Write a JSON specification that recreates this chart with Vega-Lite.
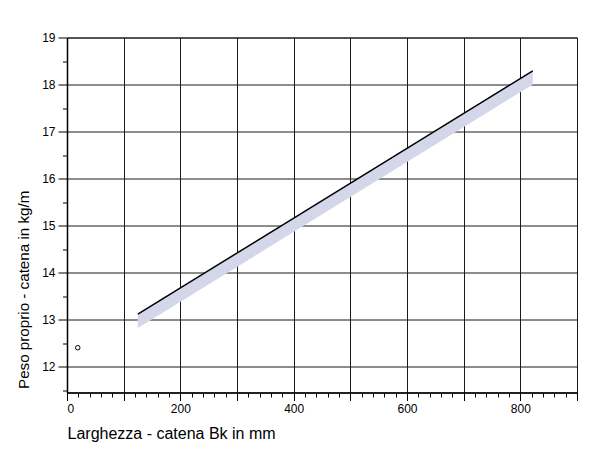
{
  "$schema": "https://vega.github.io/schema/vega-lite/v6.json",
  "width": 510,
  "height": 355,
  "autosize": {"type": "none"},
  "padding": {"left": 67, "top": 37.5, "right": 13, "bottom": 66.5},
  "background": "white",
  "config": {
    "font": "Liberation Sans",
    "view": {"stroke": "#1a1a1a", "strokeWidth": 1}
  },
  "datasets": {
    "band": [
      {"width_mm": 125, "top": 13.115, "bottom": 12.82},
      {"width_mm": 822, "top": 18.29, "bottom": 18.0}
    ],
    "point": [
      {"width_mm": 19, "peso": 12.4}
    ]
  },
  "layer": [
    {
      "data": {"name": "band"},
      "mark": {"type": "area", "color": "#d4d7ea", "opacity": 1},
      "encoding": {
        "x": {
          "field": "width_mm", "type": "quantitative",
          "title": "Larghezza - catena Bk in mm",
          "scale": {"domain": [0, 900], "nice": false, "zero": false},
          "axis": {
            "values": [0,20,40,60,80,100,120,140,160,180,200,220,240,260,280,300,320,340,360,380,400,420,440,460,480,500,520,540,560,580,600,620,640,660,680,700,720,740,760,780,800,820,840,860,880,900],
            "tickCount": 1000,
            "format": "d",
            "labelExpr": "datum.value % 200 === 0 ? datum.label : ''",
            "labelOverlap": false,
            "grid": true,
            "gridColor": "#1a1a1a",
            "gridWidth": 1,
            "gridOpacity": {"condition": {"test": "datum.value % 100 === 0", "value": 1}, "value": 0},
            "tickSize": {"condition": {"test": "datum.value % 100 === 0", "value": 8}, "value": 4.5},
            "tickColor": "black",
            "tickWidth": 1,
            "domainColor": "black",
            "domainWidth": 1.5,
            "labelFontSize": 12,
            "labelColor": "black",
            "labelPadding": 3,
            "titleFontSize": 16,
            "titleFontWeight": "normal",
            "titleColor": "black",
            "titleAnchor": "start",
            "titlePadding": 11
          }
        },
        "y": {
          "field": "bottom", "type": "quantitative",
          "title": "Peso proprio - catena in kg/m",
          "scale": {"domain": [11.447, 19], "nice": false, "zero": false},
          "axis": {
            "values": [11.5,12,12.5,13,13.5,14,14.5,15,15.5,16,16.5,17,17.5,18,18.5,19],
            "tickCount": 1000,
            "format": ".0f",
            "labelExpr": "datum.value % 1 === 0 ? datum.label : ''",
            "labelOverlap": false,
            "labelFlush": false,
            "grid": true,
            "gridColor": "#1a1a1a",
            "gridWidth": 1,
            "gridOpacity": {"condition": {"test": "datum.value % 1 === 0", "value": 1}, "value": 0},
            "tickSize": {"condition": {"test": "datum.value % 1 === 0", "value": 9}, "value": 4.5},
            "tickColor": "black",
            "tickWidth": 1,
            "domainColor": "black",
            "domainWidth": 1.5,
            "labelFontSize": 12,
            "labelColor": "black",
            "labelPadding": 3,
            "titleFontSize": 15.2,
            "titleFontWeight": "normal",
            "titleColor": "black",
            "titleAnchor": "start",
            "titleY": 351,
            "titlePadding": 10
          }
        },
        "y2": {"field": "top"}
      }
    },
    {
      "data": {"name": "band"},
      "mark": {"type": "line", "color": "black", "strokeWidth": 1.5},
      "encoding": {
        "x": {"field": "width_mm", "type": "quantitative", "title": "Larghezza - catena Bk in mm"},
        "y": {"field": "top", "type": "quantitative", "title": "Peso proprio - catena in kg/m"}
      }
    },
    {
      "data": {"name": "point"},
      "mark": {"type": "point", "shape": "circle", "filled": false, "color": "black", "size": 20, "strokeWidth": 1, "opacity": 1},
      "encoding": {
        "x": {"field": "width_mm", "type": "quantitative", "title": "Larghezza - catena Bk in mm"},
        "y": {"field": "peso", "type": "quantitative", "title": "Peso proprio - catena in kg/m"}
      }
    }
  ]
}
